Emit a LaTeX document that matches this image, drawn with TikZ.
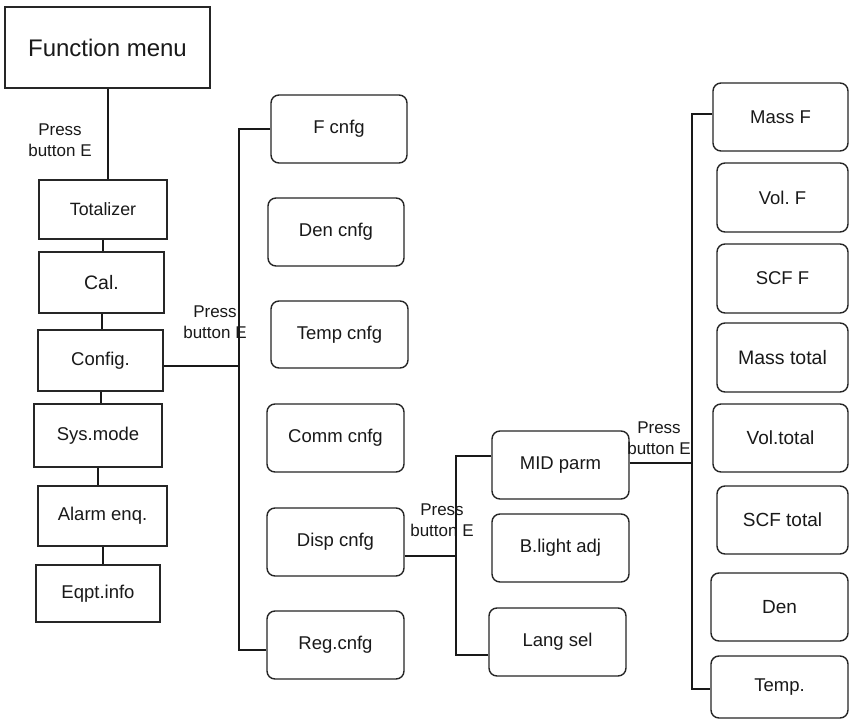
\documentclass[tikz,border=0pt]{standalone}
\usepackage{fontspec}
\setmainfont{Liberation Sans}
\frenchspacing
\begin{document}
\begin{tikzpicture}[x=1pt,y=-1pt,
  every node/.style={font=\fontsize{18.5}{21}\selectfont, text=black!90},
  sqbox/.style={draw=black!85, line width=1.4pt, inner sep=0pt, align=center},
  rbox/.style={sqbox, rounded corners=8pt},
  link/.style={draw=black!90, line width=2pt},
  fs/.style={font=\fontsize{#1}{#1}\selectfont},
  presslbl/.style={align=center, inner sep=0pt, font=\fontsize{17}{21}\selectfont}
]
\useasboundingbox (0,0) rectangle (849,720);
\fill[white] (0,0) rectangle (849,720);

% main menu column
\node[sqbox, minimum width=205pt, minimum height=81pt, fs=24] (menu) at (107.5,47.5) {Function menu};
\node[sqbox, minimum width=128pt, minimum height=59pt, fs=17.8] (tot) at (103,209.5) {Totalizer};
\node[sqbox, minimum width=125pt, minimum height=61pt, fs=19.5] (cal) at (101.5,282.5) {Cal.};
\node[sqbox, minimum width=125pt, minimum height=61pt] (cfg)   at (100.5,360.5) {Config.};
\node[sqbox, minimum width=128pt, minimum height=63pt] (sys)   at (98,435.5) {Sys.mode};
\node[sqbox, minimum width=129pt, minimum height=60pt] (alarm) at (102.5,516) {Alarm enq.};
\node[sqbox, minimum width=124pt, minimum height=57pt] (eqpt)  at (98,593.5) {Eqpt.info};

\node[presslbl] (p1) at (60,140) {Press\\button E};

\draw[link] (menu.south) -- (menu.south |- tot.north);
\draw[link] (tot.south) -- (tot.south |- cal.north);
\draw[link] (cal.south) -- (cal.south |- cfg.north);
\draw[link] (cfg.south) -- (cfg.south |- sys.north);
\draw[link] (sys.south) -- (sys.south |- alarm.north);
\draw[link] (alarm.south) -- (alarm.south |- eqpt.north);

% configuration submenu
\node[rbox, minimum width=136pt, minimum height=68pt] (fc)   at (339,129) {F cnfg};
\node[rbox, minimum width=136pt, minimum height=68pt] (den)  at (336,232) {Den cnfg};
\node[rbox, minimum width=137pt, minimum height=67pt] (temp) at (339.5,334.5) {Temp cnfg};
\node[rbox, minimum width=137pt, minimum height=68pt] (comm) at (335.5,438) {Comm cnfg};
\node[rbox, minimum width=137pt, minimum height=68pt] (disp) at (335.5,542) {Disp cnfg};
\node[rbox, minimum width=137pt, minimum height=68pt] (reg)  at (335.5,645) {Reg.cnfg};

\coordinate (busAtop) at (239,129);
\coordinate (busAmid) at (239,366);
\coordinate (busAbot) at (239,650);
\draw[link] (cfg.east |- busAmid) -- (busAmid);
\draw[link] (fc.west) -- (busAtop) -- (busAbot) -- (reg.west |- busAbot);
\node[presslbl] (p2) at (215,322) {Press\\button E};

% display submenu
\node[rbox, minimum width=137pt, minimum height=68pt] (mid)    at (560.5,465) {MID parm};
\node[rbox, minimum width=137pt, minimum height=68pt] (blight) at (560.5,548) {B.light adj};
\node[rbox, minimum width=137pt, minimum height=68pt] (lang)   at (557.5,642) {Lang sel};

\coordinate (busBtop) at (456,456);
\coordinate (busBmid) at (456,556);
\coordinate (busBbot) at (456,655);
\draw[link] (disp.east |- busBmid) -- (busBmid);
\draw[link] (mid.west |- busBtop) -- (busBtop) -- (busBbot) -- (lang.west |- busBbot);
\node[presslbl] (p3) at (442,520) {Press\\button E};

% MID parameter list
\node[rbox, minimum width=135pt, minimum height=68pt] (massf) at (780.5,117) {Mass F};
\node[rbox, minimum width=131pt, minimum height=69pt] (volf)  at (782.5,197.5) {Vol. F};
\node[rbox, minimum width=131pt, minimum height=69pt] (scff)  at (782.5,278.5) {SCF F};
\node[rbox, minimum width=131pt, minimum height=69pt, fs=19.5] (masst) at (782.5,357.5) {Mass total};
\node[rbox, minimum width=135pt, minimum height=68pt, fs=19] (volt)  at (780.5,438) {Vol.total};
\node[rbox, minimum width=131pt, minimum height=68pt, fs=19] (scft)  at (782.5,520) {SCF total};
\node[rbox, minimum width=137pt, minimum height=68pt, fs=19] (den2)  at (779.5,607) {Den};
\node[rbox, minimum width=137pt, minimum height=62pt] (tempr) at (779.5,687) {Temp.};

\coordinate (busCtop) at (692,114);
\coordinate (busCmid) at (692,463);
\coordinate (busCbot) at (692,689);
\draw[link] (mid.east |- busCmid) -- (busCmid);
\draw[link] (massf.west |- busCtop) -- (busCtop) -- (busCbot) -- (tempr.west |- busCbot);
\node[presslbl] (p4) at (659,438) {Press\\button E};
\end{tikzpicture}
\end{document}
